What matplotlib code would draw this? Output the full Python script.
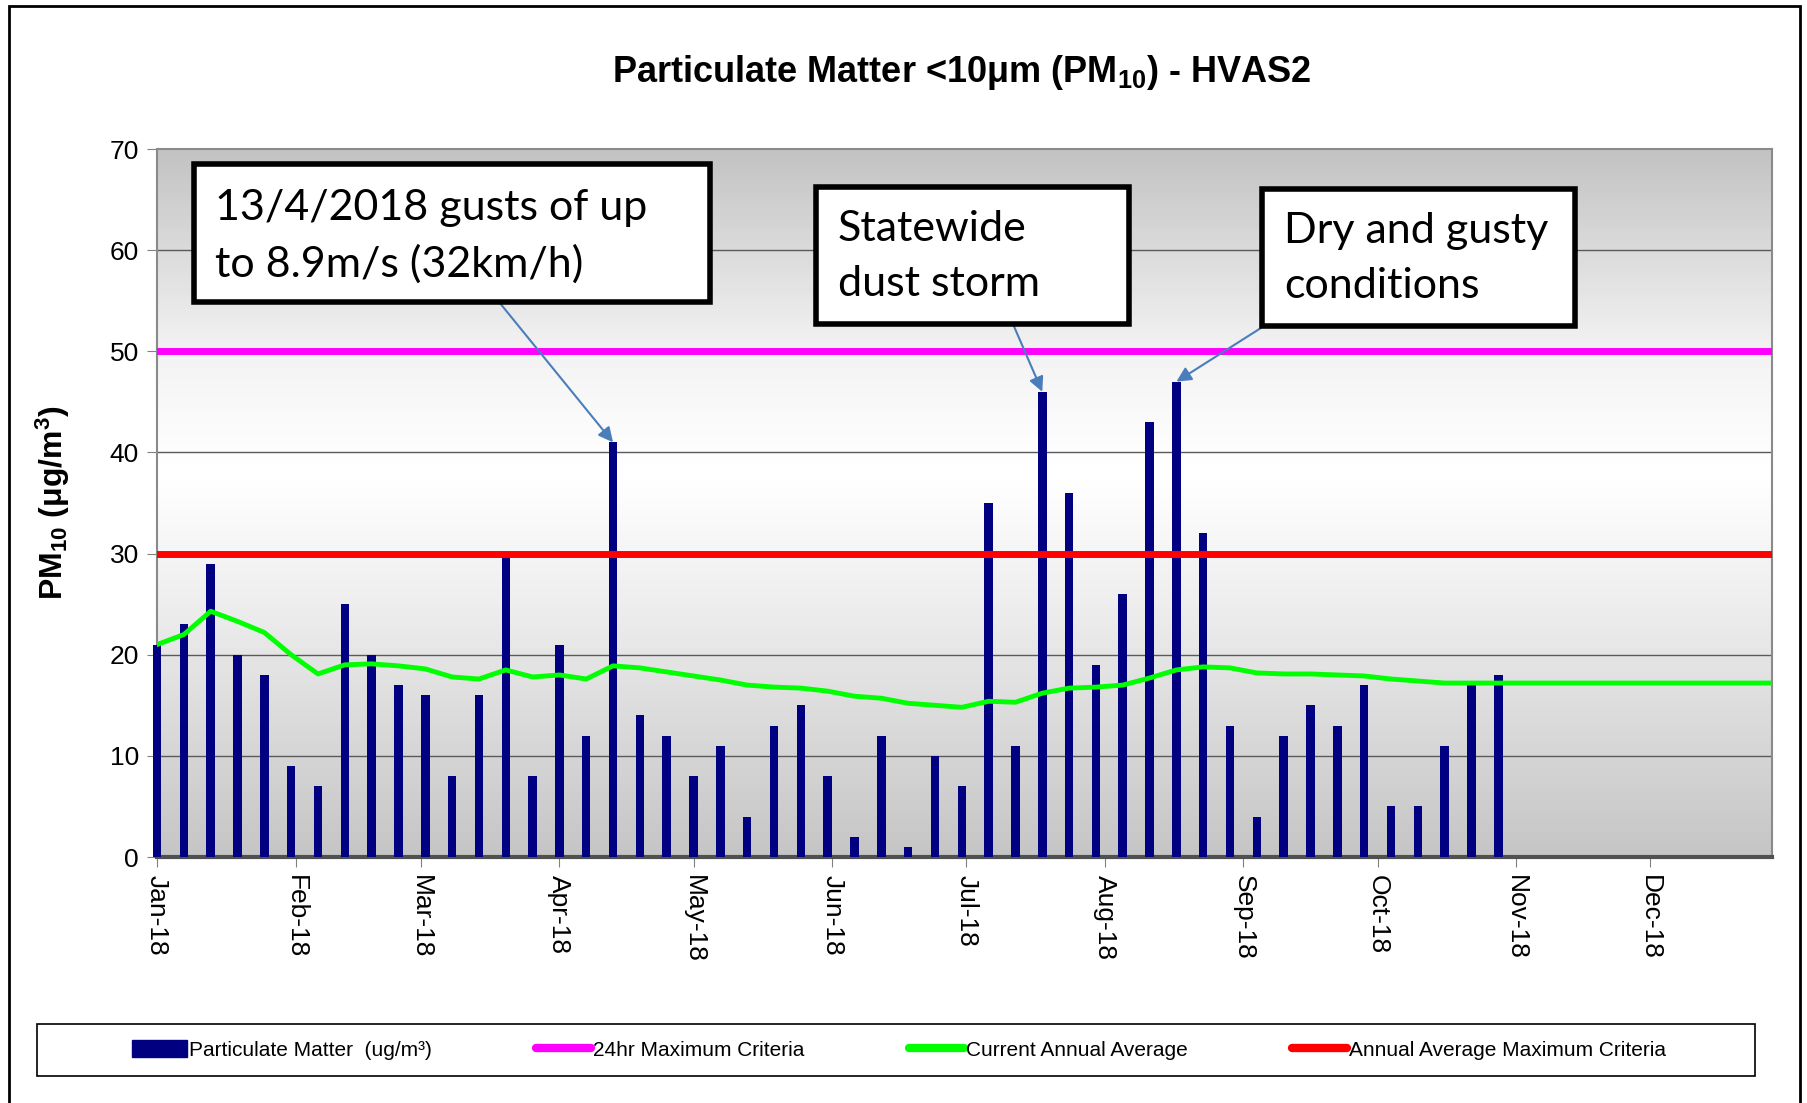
#!/usr/bin/env python3
# -*- coding: utf-8 -*-

''' PM10 at HVAS2, 6-day sampling, 2018 '''

import datetime as dt
import numpy as np
import pandas as pd
import matplotlib
matplotlib.use('Agg')
import matplotlib.pyplot as plt
import matplotlib.dates as mdt
from matplotlib.patches import Rectangle, Patch
from matplotlib.lines import Line2D

plt.rcParams['font.family'] = ['Liberation Sans', 'DejaVu Sans']
plt.rcParams['mathtext.default'] = 'regular'

# sample dates: every 6th day from 1 Jan 2018
sample_dates = pd.date_range('2018-01-01', periods=51, freq='6D')

pm10 = [21, 23, 29, 20, 18, 9, 7, 25, 20, 17,
        16, 8, 16, 30, 8, 21, 12, 41, 14, 12,
        8, 11, 4, 13, 15, 8, 2, 12, 1, 10,
        7, 35, 11, 46, 36, 19, 26, 43, 47, 32,
        13, 4, 12, 15, 13, 17, 5, 5, 11, 17,
        18]

annual_avg = [21.0, 22.0, 24.3, 23.3, 22.2, 20.0, 18.1, 19.0, 19.1, 18.9,
              18.6, 17.8, 17.6, 18.5, 17.8, 18.0, 17.6, 18.9, 18.7, 18.3,
              17.9, 17.5, 17.0, 16.8, 16.7, 16.4, 15.9, 15.7, 15.2, 15.0,
              14.8, 15.4, 15.3, 16.2, 16.7, 16.8, 17.0, 17.7, 18.5, 18.8,
              18.7, 18.2, 18.1, 18.1, 18.0, 17.9, 17.6, 17.4, 17.2, 17.2,
              17.2]
avg_end_date = dt.datetime(2018, 12, 31)
avg_end_value = 17.2

criteria_24hr = 50
criteria_annual = 30

notes = ['13/4/2018 gusts of up\nto 8.9m/s (32km/h)',
         'Statewide\ndust storm',
         'Dry and gusty\nconditions']
note_dates = [dt.datetime(2018, 4, 13), dt.datetime(2018, 7, 18), dt.datetime(2018, 8, 17)]
note_values = [41, 46, 47]


def draw_chart():
    fig = plt.figure(figsize=(18.07, 11.03), dpi=100)
    ax = fig.add_axes([0.0869, 0.2230, 0.8937, 0.6419])

    # background gradient grey -> white -> grey
    yy = np.linspace(0, 70, 200)
    shade = np.interp(yy, [0, 25, 38, 50, 70], [0.77, 0.93, 1.0, 0.95, 0.76])
    ax.imshow(shade[::-1].reshape(-1, 1), cmap='gray', vmin=0, vmax=1,
              extent=[0, 1, 0, 1], transform=ax.transAxes, aspect='auto', zorder=0)

    x_end = dt.datetime(2018, 12, 28, 5)
    ax.set_xlim(dt.datetime(2018, 1, 1), x_end)
    ax.set_ylim(0, 70)

    for v in range(10, 70, 10):
        ax.axhline(v, color='#5a5a5a', lw=1.0, zorder=1)

    ax.bar(sample_dates, pm10, width=1.9, color='#000080', zorder=2.6, clip_on=False)
    ax.axhline(criteria_24hr, color='#ff00ff', lw=5, zorder=3)
    ax.axhline(criteria_annual, color='#ff0000', lw=5, zorder=3)
    ax.plot(list(sample_dates) + [avg_end_date], annual_avg + [avg_end_value],
            color='#00ff00', lw=3.5, zorder=4, clip_on=True)

    ax.set_yticks(range(0, 71, 10))
    ax.xaxis.set_major_locator(mdt.MonthLocator())
    ax.xaxis.set_major_formatter(mdt.DateFormatter('%b-%y'))
    ax.tick_params(axis='x', labelsize=19, labelrotation=270, direction='out',
                   length=7, color='#808080', pad=6)
    ax.tick_params(axis='y', labelsize=19, direction='out', length=7,
                   color='#808080', pad=6)
    for lab in ax.get_xticklabels():
        lab.set_va('top')
        lab.set_ha('center')

    for side in ['top', 'right', 'left']:
        ax.spines[side].set_color('#8a8a8a')
        ax.spines[side].set_linewidth(1.5)
    ax.spines['bottom'].set_color('#505050')
    ax.spines['bottom'].set_linewidth(3)

    ax.set_ylabel('PM$_{10}$ (μg/m$^3$)', fontsize=23, fontweight='bold', labelpad=27)
    fig.text(0.532, 0.934, 'Particulate Matter <10μm (PM$_{10}$) - HVAS2',
             fontsize=26, fontweight='bold', ha='center', va='center')

    # annotation boxes
    boxes = [(0.0229, 0.7839, 0.3195, 0.1949),
             (0.4080, 0.7530, 0.1940, 0.1930),
             (0.6840, 0.7500, 0.1940, 0.1935)]
    text_pos = [(0.0362, 0.8765), (0.4217, 0.8480), (0.6980, 0.8450)]
    arrow_from = [(0.2118, 0.7839), (0.5300, 0.7530), (0.6855, 0.7500)]
    for i in range(3):
        bx, by, bw, bh = boxes[i]
        ax.add_patch(Rectangle((bx, by), bw, bh, transform=ax.transAxes,
                               facecolor='white', edgecolor='black', lw=4, zorder=6))
        ax.text(text_pos[i][0], text_pos[i][1], notes[i], transform=ax.transAxes,
                fontsize=31, family=['Lato', 'DejaVu Sans'], va='center', ha='left',
                linespacing=1.55, zorder=7)
        ax.annotate('', xy=(mdt.date2num(note_dates[i]), note_values[i]), xycoords='data',
                    xytext=arrow_from[i], textcoords='axes fraction',
                    arrowprops=dict(arrowstyle='-|>', color='#4a7ebb', lw=1.5,
                                    mutation_scale=22, shrinkA=0, shrinkB=0),
                    zorder=5)

    # legend
    handles = [Patch(facecolor='#000080', edgecolor='#000080'),
               Line2D([], [], color='#ff00ff', lw=6, solid_capstyle='round'),
               Line2D([], [], color='#00ff00', lw=6, solid_capstyle='round'),
               Line2D([], [], color='#ff0000', lw=6, solid_capstyle='round')]
    labels = ['Particulate Matter  (ug/m³)', '24hr Maximum Criteria',
              'Current Annual Average', 'Annual Average Maximum Criteria']
    fig.add_artist(Rectangle((0.0205, 0.0245), 0.9505, 0.0471, transform=fig.transFigure,
                             facecolor='white', edgecolor='black', lw=1.2))
    fig.legend(handles, labels, loc='center', bbox_to_anchor=(0.4975, 0.048), ncol=4,
               frameon=False, fontsize=15, handlelength=2.65, handletextpad=0.1,
               columnspacing=5.0, handleheight=0.9)

    # outer border
    fig.add_artist(Rectangle((0.005, -0.01), 0.991, 1.0046, transform=fig.transFigure,
                             facecolor='none', edgecolor='black', lw=2))

    fig.savefig('out.png', dpi=100)


if __name__ == '__main__':
    draw_chart()
